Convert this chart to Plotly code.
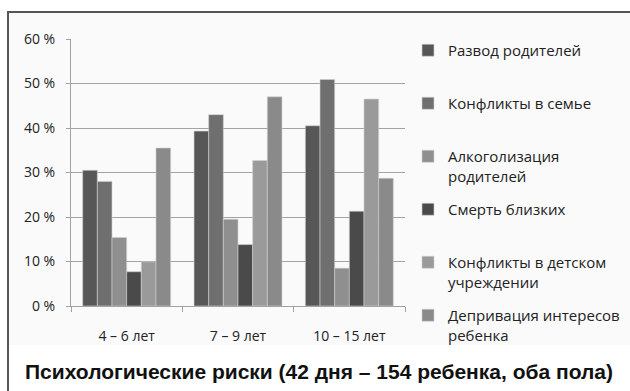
import plotly.graph_objects as go

categories = ["4 – 6 лет", "7 – 9 лет", "10 – 15 лет"]
series_names = [
    "Развод родителей",
    "Конфликты в семье",
    "Алкоголизация<br>родителей",
    "Смерть близких",
    "Конфликты в детском<br>учреждении",
    "Депривация интересов<br>ребенка",
]
divorce = [30.5, 39.3, 40.5]
family_conflicts = [28.0, 43.0, 50.9]
alcoholism = [15.4, 19.5, 8.5]
death_of_relatives = [7.7, 13.8, 21.3]
institution_conflicts = [9.9, 32.7, 46.5]
deprivation = [35.5, 47.0, 28.7]
series_values = [divorce, family_conflicts, alcoholism, death_of_relatives,
                 institution_conflicts, deprivation]
colors = ["#575757", "#6f6f6f", "#8f8f8f", "#4a4a4a", "#9a9a9a", "#8a8a8a"]
y_ticks = [0, 10, 20, 30, 40, 50, 60]
y_tick_labels = ["0 %", "10 %", "20 %", "30 %", "40 %", "50 %", "60 %"]

W, H = 630, 391
L, R, T, B = 71, 225, 39, 85
pw, ph = W - L - R, H - T - B


def px_x(p):
    return (p - L) / pw


def px_y(p):
    return (H - B - p) / ph


fig = go.Figure()
for i, (name, vals, col) in enumerate(zip(series_names, series_values, colors)):
    label = name if "<br>" in name else name + "<br>\u00a0"
    fig.add_trace(go.Bar(
        x=categories, y=vals, name=label, legendgroup=f"g{i}",
        marker=dict(color=col, line=dict(color="#d0d0d0", width=0.6)),
    ))

fig.update_layout(
    width=W, height=H,
    margin=dict(l=L, r=R, t=T, b=B, autoexpand=False),
    paper_bgcolor="white", plot_bgcolor="rgba(0,0,0,0)",
    barmode="group", bargap=0.21, bargroupgap=0,
    font=dict(family="Open Sans, sans-serif", size=14, color="#222"),
    showlegend=True,
    legend=dict(
        x=px_x(408), xanchor="left", y=px_y(34), yanchor="top",
        valign="top", tracegroupgap=11, maxheight=1000,
        font=dict(family="Open Sans, sans-serif", size=15, color="#222"),
        bgcolor="rgba(0,0,0,0)",
    ),
    title=dict(
        text="<b>Психологические риски (42 дня – 154 ребенка, оба пола)</b>",
        xref="paper", xanchor="center", x=px_x(319),
        y=1 - 372 / H, yref="container", yanchor="middle",
        font=dict(family="Liberation Sans, Arial, sans-serif", size=21, color="#111"),
    ),
)

fig.update_yaxes(
    range=[0, 60], tickvals=y_ticks, ticktext=y_tick_labels,
    showgrid=True, gridcolor="#a3a3a3", gridwidth=1,
    showline=True, linecolor="#a3a3a3", linewidth=1,
    ticks="outside", ticklen=4, tickcolor="#a3a3a3",
    ticklabelstandoff=8, zeroline=False, automargin=False,
    tickfont=dict(size=14, color="#222"),
)
fig.update_xaxes(
    showline=True, linecolor="#a3a3a3", linewidth=1,
    ticks="outside", ticklen=5, tickcolor="#a3a3a3", tickson="boundaries",
    ticklabelstandoff=17, automargin=False,
    tickfont=dict(size=14, color="#222"),
)

# light chart-area background and outer frame
fig.add_shape(type="rect", xref="paper", yref="paper",
              x0=px_x(9), x1=px_x(650), y0=px_y(345), y1=px_y(13),
              line=dict(width=0), fillcolor="#fafafa", layer="below")
fig.add_shape(type="rect", xref="paper", yref="paper",
              x0=px_x(8), x1=px_x(650), y0=px_y(410), y1=px_y(12),
              line=dict(color="#555", width=2), fillcolor="rgba(0,0,0,0)", layer="below")

fig.write_html("out.html", config={"displayModeBar": False},
               post_script="document.body.style.margin='0';")
